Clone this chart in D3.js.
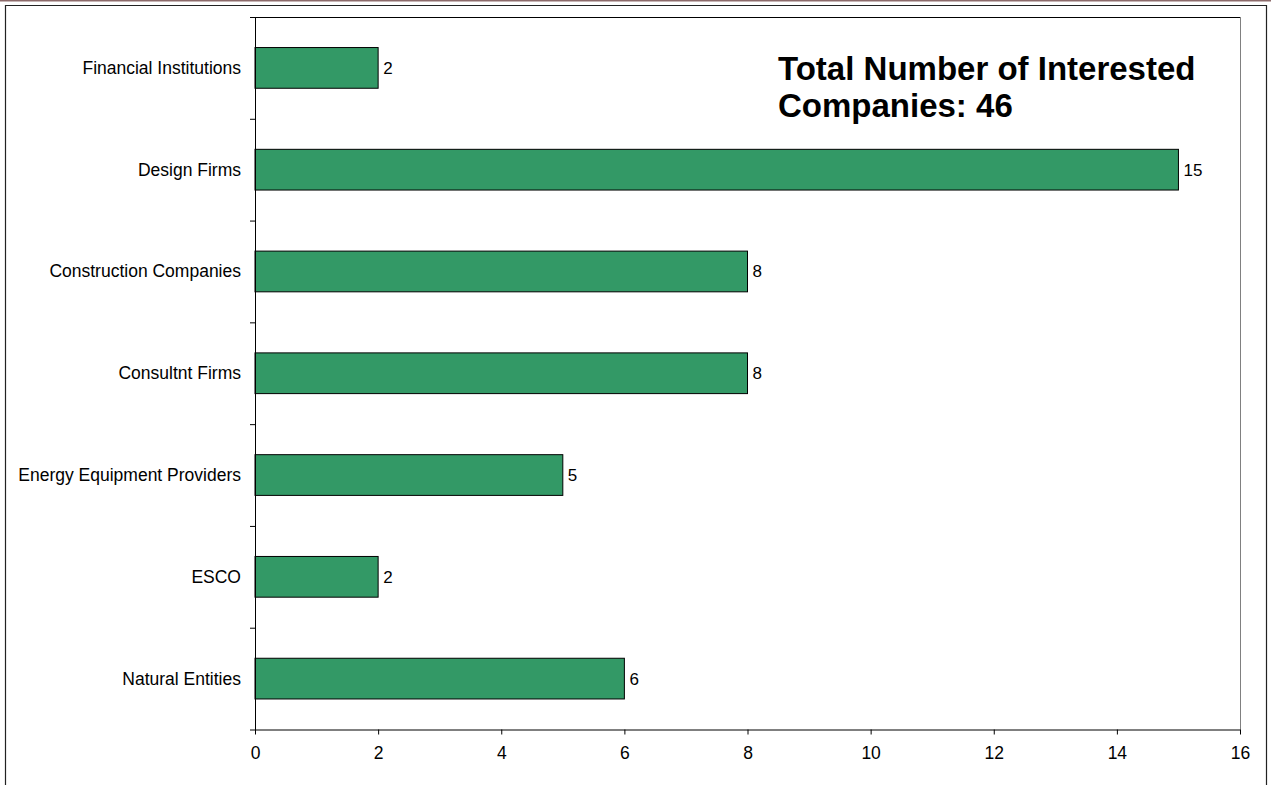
<!DOCTYPE html>
<html>
<head>
<meta charset="utf-8">
<script src="https://cdnjs.cloudflare.com/ajax/libs/d3/7.8.5/d3.min.js"></script>
<style>
  html, body { margin: 0; padding: 0; background: #fff; }
  svg { display: block; }
  text { font-family: Arial, "Liberation Sans", sans-serif; fill: #000; }
</style>
</head>
<body>
<div id="chart"></div>
<script>
// Data
const categories = ["Financial Institutions", "Design Firms", "Construction Companies",
  "Consultnt Firms", "Energy Equipment Providers", "ESCO", "Natural Entities"];
const counts = [2, 15, 8, 8, 5, 2, 6];
const xTicks = [0, 2, 4, 6, 8, 10, 12, 14, 16];
const titleLines = ["Total Number of Interested", "Companies: 46"];

const W = 1271, H = 785;
const plot = { left: 255, right: 1240, top: 17, bottom: 729.5 };

const svg = d3.select("#chart").append("svg")
  .attr("width", W).attr("height", H);

// outer frame
svg.append("line").attr("x1", 0).attr("x2", W).attr("y1", 0.5).attr("y2", 0.5)
  .attr("stroke", "#8c6a6a").attr("stroke-width", 2);
svg.append("path")
  .attr("d", `M5.5,${H}V5.5H1266.5V${H}`)
  .attr("fill", "none").attr("stroke", "#222").attr("stroke-width", 1.2);

const x = d3.scaleLinear().domain([0, 16]).range([plot.left, plot.right]);
const y = d3.scaleBand().domain(categories)
  .range([plot.top, plot.bottom])
  .paddingInner(0.6).paddingOuter(0.3);
const yEdges = d3.scaleLinear().domain([0, categories.length])
  .range([plot.top, plot.bottom]);

// plot area top & right border
svg.append("line").attr("x1", plot.left).attr("x2", plot.right)
  .attr("y1", plot.top + 0.5).attr("y2", plot.top + 0.5)
  .attr("stroke", "#000");
svg.append("line").attr("x1", plot.right + 0.5).attr("x2", plot.right + 0.5)
  .attr("y1", plot.top).attr("y2", plot.bottom)
  .attr("stroke", "#808080");

// bars
svg.append("g").selectAll("rect")
  .data(categories)
  .join("rect")
  .attr("x", x(0))
  .attr("y", d => y(d))
  .attr("width", (d, i) => x(counts[i]) - x(0))
  .attr("height", y.bandwidth())
  .attr("fill", "#339966")
  .attr("stroke", "#000")
  .attr("stroke-width", 1);

// value labels
svg.append("g").selectAll("text")
  .data(categories)
  .join("text")
  .attr("x", (d, i) => x(counts[i]) + 5)
  .attr("y", d => y(d) + y.bandwidth() / 2 + 6)
  .attr("font-size", "17px")
  .text((d, i) => counts[i]);

// x axis
const xAxis = svg.append("g")
  .attr("transform", `translate(0,${plot.bottom})`)
  .call(d3.axisBottom(x).tickValues(xTicks).tickSize(5).tickPadding(12).tickSizeOuter(0));
xAxis.select(".domain").attr("stroke", "#000");
xAxis.selectAll("text").attr("font-size", "17.5px").attr("font-family", "Arial, 'Liberation Sans', sans-serif");

// y axis: tick marks at band edges, labels centred in bands
const yAxis = svg.append("g")
  .attr("transform", `translate(${plot.left},0)`)
  .call(d3.axisLeft(yEdges).tickValues(d3.range(categories.length + 1))
    .tickSize(5).tickSizeOuter(0).tickFormat(""));
yAxis.select(".domain").attr("stroke", "#000");

svg.append("g").selectAll("text")
  .data(categories)
  .join("text")
  .attr("x", 241)
  .attr("y", d => y(d) + y.bandwidth() / 2 + 6)
  .attr("text-anchor", "end")
  .attr("font-size", "17.5px")
  .text(d => d);

// annotation
svg.append("text")
  .attr("x", 778).attr("y", 80)
  .attr("font-size", "33px").attr("font-weight", "bold")
  .selectAll("tspan")
  .data(titleLines)
  .join("tspan")
  .attr("x", 778)
  .attr("dy", (d, i) => i === 0 ? 0 : 37)
  .text(d => d);
</script>
</body>
</html>
